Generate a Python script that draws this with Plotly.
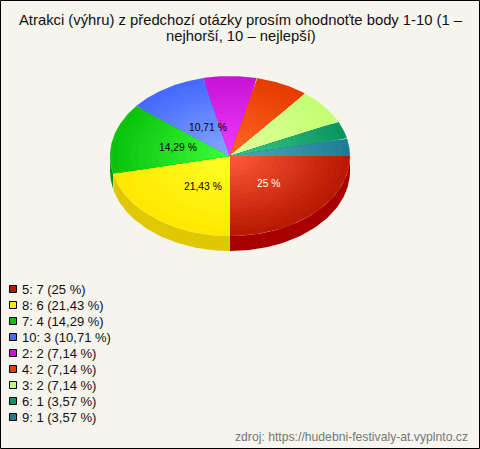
import numpy as np
import plotly.graph_objects as go

TITLE_LINES = ["Atrakci (výhru) z předchozí otázky prosím ohodnoťte body 1-10 (1 –", "nejhorší, 10 – nejlepší)"]
SOURCE = "zdroj: https://hudebni-festivaly-at.vyplnto.cz"

categories = ["5", "8", "7", "10", "2", "4", "3", "6", "9"]
counts = [7, 6, 4, 3, 2, 2, 2, 1, 1]
percent_labels = ["25", "21,43", "14,29", "10,71", "7,14", "7,14", "7,14", "3,57", "3,57"]

edge_colors = [(185, 25, 0), (255, 232, 0), (10, 195, 10), (70, 105, 255), (200, 20, 215),
               (230, 60, 0), (195, 255, 115), (10, 150, 95), (30, 125, 150)]
center_colors = [(255, 90, 60), (255, 255, 40), (60, 255, 60), (135, 170, 255), (240, 60, 255),
                 (255, 105, 40), (225, 255, 160), (60, 200, 140), (80, 170, 190)]
side_colors = ["#a80000", "#e0c800", "#0a960a", "#3050c0", "#9010a0",
               "#b03000", "#a0d060", "#087040", "#185f70"]

BG = "#f5f4ed"
CX, CY, RX, RY, DEPTH = 230, 156, 120, 80, 15
BANDS = 18

fig = go.Figure()


def add_poly(xs, ys, color):
    fig.add_trace(go.Scatter(
        x=xs, y=ys, mode='lines', fill='toself', fillcolor=color,
        line=dict(width=0), hoverinfo='skip', showlegend=False,
    ))


# wedge angles come from the counts, clockwise from 3 o'clock
fractions = np.array(counts) / sum(counts)
ends = np.cumsum(fractions) * 2 * np.pi
starts = ends - fractions * 2 * np.pi

# side wall (only the front half of the ellipse shows)
for i in range(len(counts)):
    a0, a1 = starts[i], min(ends[i], np.pi)
    if a0 >= np.pi:
        continue
    t = np.linspace(a0, a1, 60)
    xs = CX + RX * np.cos(t)
    ys = CY + RY * np.sin(t)
    add_poly(np.r_[xs, xs[::-1]], np.r_[ys, ys[::-1] + DEPTH], side_colors[i])

# top face, nested wedges stand in for the radial gradient
for i in range(len(counts)):
    t = np.linspace(starts[i], ends[i], 80)
    for b in range(BANDS):
        k = b / (BANDS - 1)
        scale = 1 - k * 0.97
        c = [round(e + (m - e) * k) for e, m in zip(edge_colors[i], center_colors[i])]
        xs = np.r_[CX, CX + RX * scale * np.cos(t), CX]
        ys = np.r_[CY, CY + RY * scale * np.sin(t), CY]
        add_poly(xs, ys, f"rgb({c[0]},{c[1]},{c[2]})")

# legend swatches
legend_y = [289 + 16 * i for i in range(len(counts))]
fig.add_trace(go.Scatter(
    x=[13] * len(counts), y=legend_y, mode='markers', hoverinfo='skip', showlegend=False,
    marker=dict(symbol='square', size=7, color=[f"rgb{c}" for c in edge_colors],
                line=dict(color='#000000', width=1)),
))

annotations = []
for cat, n, p, y in zip(categories, counts, percent_labels, legend_y):
    annotations.append(dict(x=20, y=y, text=f"{cat}: {n} ({p} %)", xanchor='left', yanchor='middle',
                            showarrow=False, font=dict(size=13, color='#111111')))

# slice labels
for text, x, y, color in [("25 %", 268, 183, '#ffffff'), ("21,43 %", 203, 186, '#000000'),
                          ("14,29 %", 178, 147, '#000000'), ("10,71 %", 208, 127, '#000000')]:
    annotations.append(dict(x=x, y=y, text=text, showarrow=False, xanchor='center', yanchor='middle',
                            font=dict(size=10.3, color=color)))

for line, y in zip(TITLE_LINES, [20, 36]):
    annotations.append(dict(x=240.5, y=y, text=line, showarrow=False, xanchor='center', yanchor='middle',
                            font=dict(size=14.8, color='#111111')))
annotations.append(dict(x=470, y=437, text=SOURCE, showarrow=False, xanchor='right', yanchor='middle',
                        font=dict(size=12.2, color='#777777')))

fig.update_layout(
    width=480,
    height=449,
    margin=dict(t=0, r=0, b=0, l=0),
    paper_bgcolor=BG,
    plot_bgcolor=BG,
    font=dict(family='Liberation Sans, Arial, sans-serif'),
    xaxis=dict(range=[0, 480], visible=False, fixedrange=True),
    yaxis=dict(range=[449, 0], visible=False, fixedrange=True),
    annotations=annotations,
    shapes=[dict(type='rect', xref='x', yref='y', x0=0.5, y0=0.5, x1=479.5, y1=448.5,
                 line=dict(color='#000000', width=1))],
)

fig.write_html("out.html", config=dict(displayModeBar=False),
               post_script="document.body.style.margin='0';")
